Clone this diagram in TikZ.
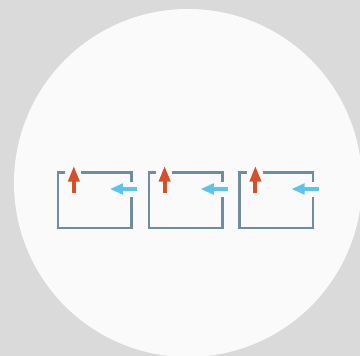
\documentclass[tikz,border=0pt]{standalone}
\definecolor{bg}{HTML}{DADADA}
\definecolor{disc}{HTML}{FAFAFA}
\definecolor{frame}{HTML}{6E8DA0}
\definecolor{upred}{HTML}{D64F28}
\definecolor{inblue}{HTML}{5BC4EE}
\tikzset{
  framebox/.style={draw=frame, line width=2.4pt, line cap=butt, line join=miter},
  uparrow/.style={fill=upred, draw=none},
  inarrow/.style={fill=inblue, draw=none},
  unit/.pic={
    \draw[framebox] (7.3pt,0pt) -- (0pt,0pt) -- (0pt,-55.3pt) -- (73.7pt,-55.3pt) -- (73.7pt,-24.3pt);
    \draw[framebox] (23pt,0pt) -- (73.7pt,0pt) -- (73.7pt,-9pt);
    \fill[uparrow] (13.8pt,-20.3pt) rectangle (17.8pt,-8pt);
    \fill[uparrow] (9.7pt,-9pt) -- (22pt,-9pt) -- (15.8pt,6pt) -- cycle;
    \fill[inarrow] (64pt,-14.2pt) rectangle (79pt,-18.6pt);
    \fill[inarrow] (65pt,-10.5pt) -- (65pt,-22.1pt) -- (52.3pt,-16.3pt) -- cycle;
  }
}
\begin{document}
\begin{tikzpicture}[x=1pt,y=1pt]
  \useasboundingbox (0,0) rectangle (360,356);
  \fill[bg] (0,0) rectangle (360,356);
  \begin{scope}
    \clip (0,0) rectangle (360,356);
    \fill[disc] (188,173) circle (174);
  \end{scope}
  \pic (u1) at (58,183.3) {unit};
  \pic (u2) at (148.8,183.3) {unit};
  \pic (u3) at (239.6,183.3) {unit};
\end{tikzpicture}
\end{document}
